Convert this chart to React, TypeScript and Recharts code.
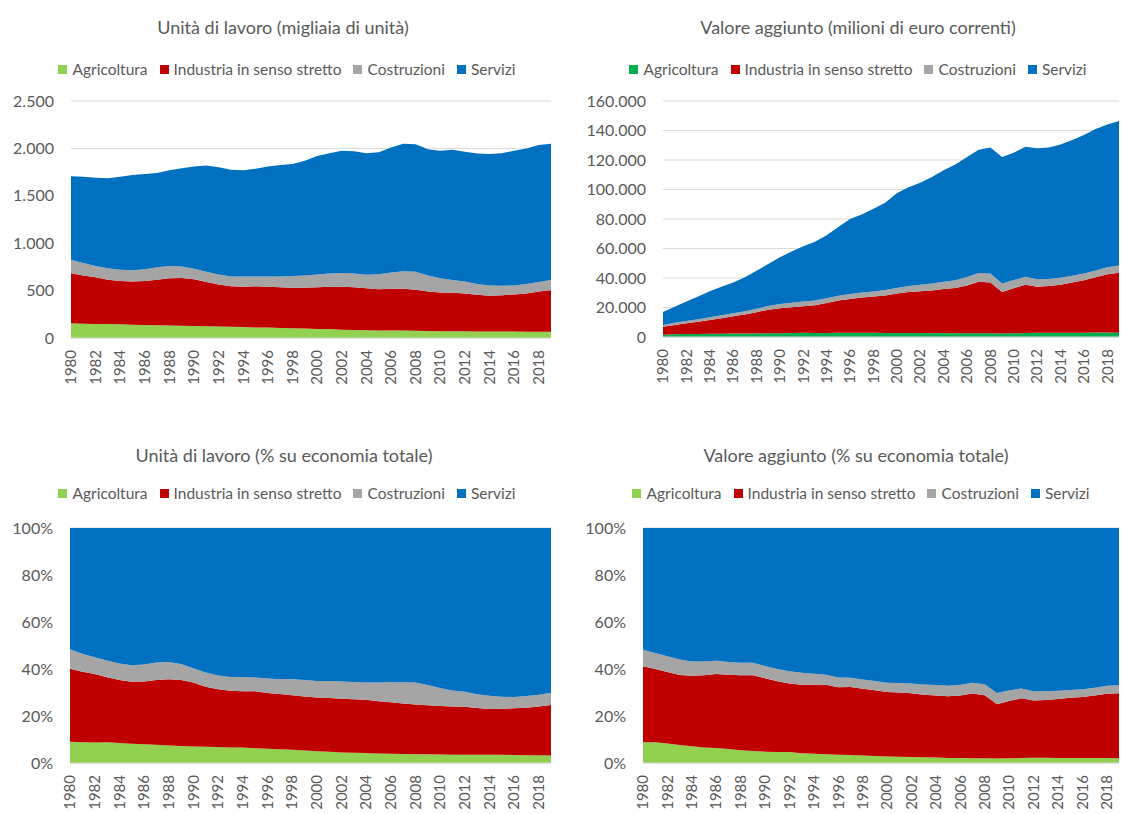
import React from 'react';
import { AreaChart, Area, XAxis, YAxis, CartesianGrid } from 'recharts';

// years on the category axis
const years = [
  1980, 1981, 1982, 1983, 1984, 1985, 1986, 1987, 1988, 1989,
  1990, 1991, 1992, 1993, 1994, 1995, 1996, 1997, 1998, 1999,
  2000, 2001, 2002, 2003, 2004, 2005, 2006, 2007, 2008, 2009,
  2010, 2011, 2012, 2013, 2014, 2015, 2016, 2017, 2018, 2019,
];

const sectors = ['Agricoltura', 'Industria in senso stretto', 'Costruzioni', 'Servizi'];

// Unità di lavoro (migliaia)
const workAgri = [155, 150, 148, 148, 145, 140, 138, 135, 132, 130, 127, 125, 122, 118, 116, 112, 110, 106, 104, 100, 96, 94, 88, 85, 82, 80, 80, 78, 76, 74, 72, 70, 70, 69, 68, 68, 68, 67, 67, 66];
const workInd = [529, 510, 492, 467, 455, 455, 462, 480, 498, 502, 493, 465, 443, 427, 424, 433, 430, 429, 426, 430, 439, 446, 452, 450, 443, 435, 440, 442, 434, 416, 408, 408, 400, 386, 377, 382, 392, 403, 423, 439];
const workCostr = [141, 130, 120, 120, 120, 120, 125, 130, 130, 123, 110, 110, 105, 105, 108, 105, 110, 115, 125, 130, 135, 140, 145, 145, 143, 157, 170, 185, 190, 170, 150, 134, 125, 115, 110, 100, 95, 100, 100, 107];
const workServ = [880, 910, 930, 950, 980, 1005, 1005, 995, 1010, 1035, 1080, 1120, 1130, 1125, 1122, 1135, 1160, 1175, 1180, 1210, 1250, 1270, 1290, 1290, 1282, 1288, 1320, 1345, 1345, 1330, 1345, 1373, 1370, 1375, 1385, 1400, 1420, 1430, 1445, 1438];

// Valore aggiunto (milioni di euro correnti)
const vaAgri = [1500, 1800, 2000, 2100, 2200, 2250, 2350, 2400, 2450, 2550, 2600, 2700, 2900, 2700, 2750, 2800, 2850, 2850, 2800, 2750, 2650, 2700, 2650, 2600, 2700, 2550, 2550, 2600, 2600, 2400, 2500, 2700, 2800, 2900, 2800, 2900, 2900, 3000, 3000, 2950];
const vaInd = [5500, 6400, 7300, 8200, 9300, 10450, 11650, 12800, 14350, 15950, 16900, 17500, 17900, 18800, 20250, 22000, 22950, 23950, 24700, 25450, 26850, 27800, 28350, 28900, 29800, 30650, 32450, 34900, 34400, 28100, 30500, 32800, 31200, 31600, 32700, 34100, 35600, 37500, 39500, 40550];
const vaCostr = [1200, 1400, 1600, 1800, 1900, 2000, 2100, 2200, 2400, 2600, 2800, 3000, 3200, 3300, 3200, 3200, 3300, 3300, 3400, 3600, 3800, 4100, 4400, 4700, 5000, 5300, 5600, 5900, 6000, 5800, 5600, 5400, 5100, 4800, 4600, 4500, 4500, 4600, 4800, 5000];
const vaServ = [8800, 10900, 13100, 15400, 17600, 19300, 20900, 23100, 25800, 28400, 31700, 34800, 37500, 39700, 42800, 46500, 50900, 52900, 56100, 59200, 64200, 66900, 69100, 72300, 75500, 78500, 81400, 83600, 85500, 85700, 86400, 88100, 88900, 89200, 90400, 92000, 94000, 95900, 96700, 98000];

const workTicks = [0, 500, 1000, 1500, 2000, 2500];
const vaTicks = [0, 20000, 40000, 60000, 80000, 100000, 120000, 140000, 160000];
const pctTicks = [0, 0.2, 0.4, 0.6, 0.8, 1];

const workData = years.map((year, i) => ({ year, agri: workAgri[i], ind: workInd[i], costr: workCostr[i], serv: workServ[i] }));
const vaData = years.map((year, i) => ({ year, agri: vaAgri[i], ind: vaInd[i], costr: vaCostr[i], serv: vaServ[i] }));

const FONT = 'Lato, "Open Sans", sans-serif';
const TEXT = '#595959';
const RED = '#C00000';
const GRAY = '#A5A5A5';
const BLUE = '#0070C0';

const thousands = (v: number) => String(v).replace(/\B(?=(\d{3})+(?!\d))/g, '.');
const percent = (v: number) => `${Math.round(v * 100)}%`;

const YearTick = (props: any) => {
  const { x, y, payload } = props;
  const ty = y + 4;
  return (
    <text x={x} y={ty} transform={`rotate(-90, ${x}, ${ty})`} textAnchor="end" dy="0.35em"
      fill={TEXT} fontSize={15} fontFamily={FONT}>
      {payload.value}
    </text>
  );
};

interface PanelProps {
  box: { left: number; top: number; width: number; height: number };
  title: string;
  titleX: number;
  titleY: number;
  legendX: number;
  legendY: number;
  agriColor: string;
  data: any[];
  ticks: number[];
  format: (v: number) => string;
  yWidth: number;
  marginTop: number;
  marginRight: number;
  marginBottom: number;
  expand?: boolean;
}

const Panel: React.FC<PanelProps> = (p) => {
  const colors = [p.agriColor, RED, GRAY, BLUE];
  return (
    <>
      <div style={{
        position: 'absolute', left: p.titleX - 300, width: 600, top: p.titleY - 12, height: 24,
        lineHeight: '24px', textAlign: 'center', fontSize: 18, color: TEXT, fontFamily: FONT,
      }}>
        {p.title}
      </div>
      <div style={{
        position: 'absolute', left: p.legendX - 300, width: 600, top: p.legendY - 10, height: 20,
        display: 'flex', justifyContent: 'center', alignItems: 'center', gap: 12,
        fontSize: 15.5, color: TEXT, fontFamily: FONT, whiteSpace: 'nowrap',
      }}>
        {sectors.map((s, i) => (
          <span key={s} style={{ display: 'flex', alignItems: 'center', gap: 5 }}>
            <span style={{ width: 9, height: 9, background: colors[i], display: 'inline-block' }} />
            {s}
          </span>
        ))}
      </div>
      <div style={{ position: 'absolute', left: p.box.left, top: p.box.top }}>
        <AreaChart
          width={p.box.width}
          height={p.box.height}
          data={p.data}
          stackOffset={p.expand ? 'expand' : 'none'}
          margin={{ top: p.marginTop, right: p.marginRight, bottom: p.marginBottom, left: 0 }}
        >
          <CartesianGrid vertical={false} stroke="#D9D9D9" />
          <XAxis
            dataKey="year"
            interval={1}
            height={50}
            tickLine={false}
            axisLine={{ stroke: '#D9D9D9' }}
            tick={(t: any) => <YearTick {...t} />}
          />
          <YAxis
            width={p.yWidth}
            domain={[0, p.ticks[p.ticks.length - 1]]}
            ticks={p.ticks}
            tickFormatter={p.format}
            tickLine={false}
            axisLine={false}
            tickSize={0}
            tickMargin={17}
            tick={{ fill: TEXT, fontSize: 16, fontFamily: FONT }}
          />
          <Area type="linear" dataKey="agri" stackId="1" fill={colors[0]} stroke="none" fillOpacity={1} isAnimationActive={false} dot={false} activeDot={false} />
          <Area type="linear" dataKey="ind" stackId="1" fill={RED} stroke="none" fillOpacity={1} isAnimationActive={false} dot={false} activeDot={false} />
          <Area type="linear" dataKey="costr" stackId="1" fill={GRAY} stroke="none" fillOpacity={1} isAnimationActive={false} dot={false} activeDot={false} />
          <Area type="linear" dataKey="serv" stackId="1" fill={BLUE} stroke="none" fillOpacity={1} isAnimationActive={false} dot={false} activeDot={false} />
        </AreaChart>
      </div>
    </>
  );
};

export default function App() {
  return (
    <div style={{ position: 'absolute', left: 0, top: 0, width: 1121, height: 814, background: '#fff', overflow: 'hidden' }}>
      <Panel
        box={{ left: 0, top: 0, width: 560, height: 400 }}
        title="Unità di lavoro (migliaia di unità)"
        titleX={283} titleY={27} legendX={287} legendY={69}
        agriColor="#92D050"
        data={workData} ticks={workTicks} format={thousands}
        yWidth={71} marginTop={101} marginRight={9} marginBottom={12}
      />
      <Panel
        box={{ left: 560, top: 0, width: 561, height: 400 }}
        title="Valore aggiunto (milioni di euro correnti)"
        titleX={858} titleY={27} legendX={858} legendY={69}
        agriColor="#00B050"
        data={vaData} ticks={vaTicks} format={thousands}
        yWidth={103} marginTop={101} marginRight={2} marginBottom={13}
      />
      <Panel
        box={{ left: 0, top: 400, width: 560, height: 414 }}
        title="Unità di lavoro (% su economia totale)"
        titleX={284} titleY={455} legendX={287} legendY={493}
        agriColor="#92D050"
        data={workData} ticks={pctTicks} format={percent} expand
        yWidth={70} marginTop={128} marginRight={9} marginBottom={1}
      />
      <Panel
        box={{ left: 560, top: 400, width: 561, height: 414 }}
        title="Valore aggiunto (% su economia totale)"
        titleX={856} titleY={455} legendX={861} legendY={493}
        agriColor="#92D050"
        data={vaData} ticks={pctTicks} format={percent} expand
        yWidth={83} marginTop={128} marginRight={2} marginBottom={1}
      />
    </div>
  );
}
